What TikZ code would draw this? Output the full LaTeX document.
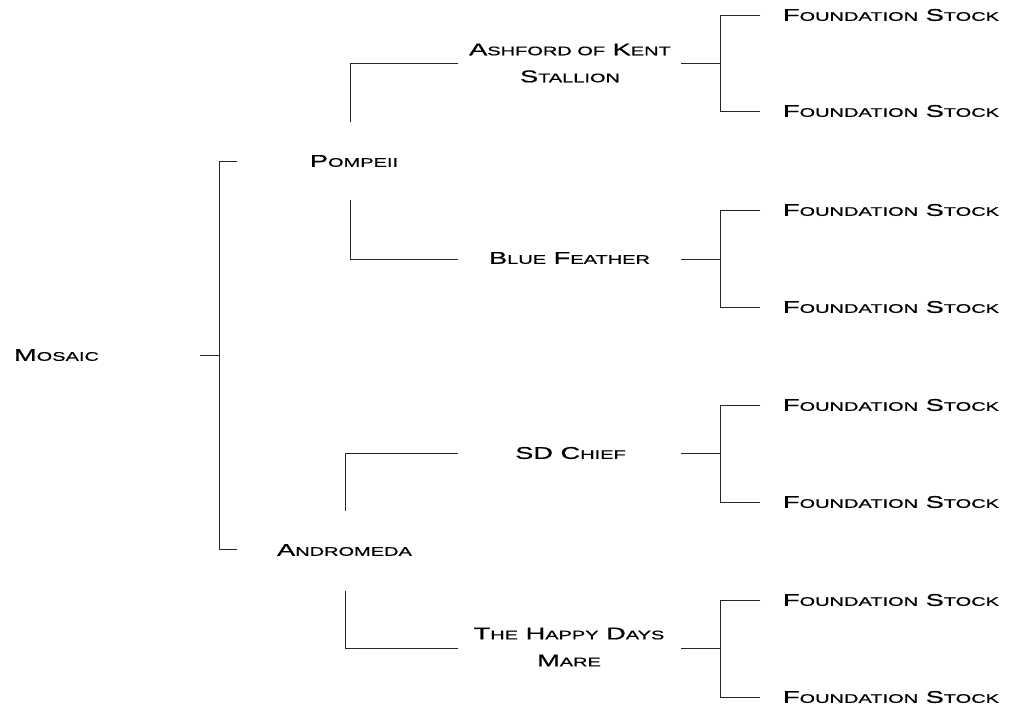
\documentclass[tikz,border=0pt]{standalone}
\usepackage{fontspec}
\newfontfamily\cpfont[FakeStretch=1.6,FakeBold=0.6]{Liberation Sans}
\newcommand\cs[2]{{\fontsize{17}{27}\selectfont #1}{\fontsize{12.5}{27}\selectfont #2}}
\begin{document}
\begin{tikzpicture}[x=1pt,y=-1pt,
  lbl/.style={inner sep=0pt,outer sep=0pt,align=center,font=\cpfont\fontsize{17}{27}\selectfont,text=black},
  link/.style={draw=black!85,line width=0.9pt}]
\useasboundingbox (0,0) rectangle (1009,710);
% generation 0
\node[lbl] (mosaic) at (56.5,355) {\cs{M}{OSAIC}};
% generation 1
\node[lbl] (pompeii) at (354,161) {\cs{P}{OMPEII}};
\node[lbl] (andromeda) at (344.5,550) {\cs{A}{NDROMEDA}};
% generation 2
\node[lbl] (ashford) at (570,63) {\cs{A}{SHFORD OF} \cs{K}{ENT}\\\cs{S}{TALLION}};
\node[lbl] (blue) at (569.5,258) {\cs{B}{LUE} \cs{F}{EATHER}};
\node[lbl] (sd) at (570.5,453) {\cs{SD}{} \cs{C}{HIEF}};
\node[lbl] (happy) at (569,647) {\cs{T}{HE} \cs{H}{APPY} \cs{D}{AYS}\\\cs{M}{ARE}};
% generation 3
\foreach \n/\y in {f1/15,f2/111,f3/210,f4/307,f5/405,f6/502,f7/600,f8/697}
  \node[lbl] (\n) at (891,\y) {\cs{F}{OUNDATION} \cs{S}{TOCK}};
% connector coordinates
\coordinate (m-out) at (200,355);
\coordinate (m-fork) at (219,355);
\coordinate (p-in) at (237,161);
\coordinate (a-in) at (237,549);
\coordinate (p-up) at (350,122);
\coordinate (p-dn) at (350,200);
\coordinate (ash-in) at (458,63);
\coordinate (blue-in) at (458,259);
\coordinate (a-up) at (345,511);
\coordinate (a-dn) at (345,591);
\coordinate (sd-in) at (458,453);
\coordinate (hap-in) at (458,648);
% Mosaic
\draw[link] (m-out) -- (m-fork);
\draw[link] (p-in) -- (p-in -| m-fork) -- (a-in -| m-fork) -- (a-in);
% Pompeii
\draw[link] (p-up) -- (p-up |- ash-in) -- (ash-in);
\draw[link] (p-dn) -- (p-dn |- blue-in) -- (blue-in);
% Andromeda
\draw[link] (a-up) -- (a-up |- sd-in) -- (sd-in);
\draw[link] (a-dn) -- (a-dn |- hap-in) -- (hap-in);
% right forks
\foreach \src/\ya/\yb/\yc in {ashford/63/15/111, blue/259/210/307, sd/453/405/502, happy/648/600/697}{
  \coordinate (\src-out) at (681,\ya);
  \coordinate (\src-fork) at (720,\ya);
  \coordinate (\src-t) at (760,\yb);
  \coordinate (\src-b) at (760,\yc);
  \draw[link] (\src-out) -- (\src-fork);
  \draw[link] (\src-t) -- (\src-t -| \src-fork) -- (\src-b -| \src-fork) -- (\src-b);
}
\end{tikzpicture}
\end{document}
